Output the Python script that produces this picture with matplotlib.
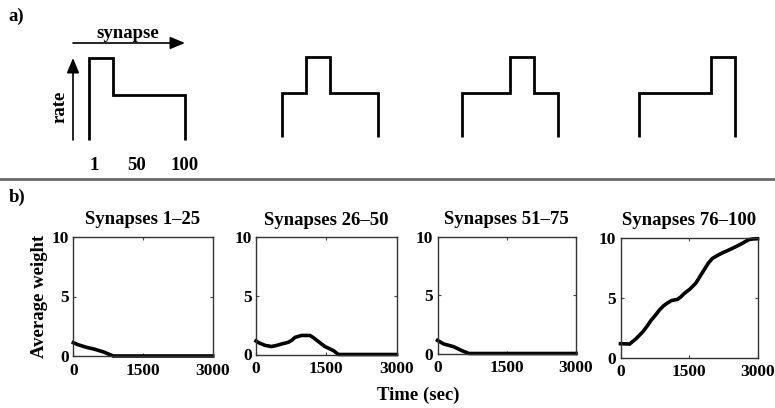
import numpy as np
import matplotlib
matplotlib.use("Agg")
import matplotlib.pyplot as plt
from matplotlib.lines import Line2D

plt.rcParams["font.family"] = ["Liberation Serif", "DejaVu Serif"]
plt.rcParams["font.weight"] = "bold"

W, H = 775, 408

# --- panel a: input rate profiles (4 groups of 25 synapses) ---
group_edges = [0, 25, 50, 75, 100]
rate_high = 1.0
rate_low = 0.55
synapse_ticks = [1, 50, 100]

# --- panel b: average weight over time per group ---
titles = ["Synapses 1\u201325", "Synapses 26\u201350", "Synapses 51\u201375", "Synapses 76\u2013100"]

t1 = [0, 100, 290, 450, 650, 830, 860, 3000]
w1 = [1.12, 0.95, 0.72, 0.58, 0.34, 0.05, 0.0, 0.0]

t2 = [0, 60, 190, 330, 450, 550, 690, 760, 830, 970, 1150, 1220, 1300, 1470, 1650, 1760, 3000]
w2 = [1.15, 1.0, 0.78, 0.68, 0.78, 0.9, 1.04, 1.2, 1.45, 1.62, 1.62, 1.45, 1.2, 0.68, 0.34, 0.0, 0.0]

t3 = [0, 130, 350, 530, 680, 3000]
w3 = [1.12, 0.82, 0.58, 0.24, 0.0, 0.0]

t4 = [0, 200, 350, 490, 580, 670, 760, 850, 940, 1030, 1120, 1250, 1320, 1400, 1520,
      1650, 1740, 1830, 1920, 2010, 2120, 2230, 2340, 2440, 2550, 2660, 2810, 2900, 3000]
w4 = [1.15, 1.12, 1.6, 2.15, 2.6, 3.1, 3.5, 3.95, 4.3, 4.55, 4.75, 4.85, 5.05, 5.35, 5.7,
      6.2, 6.75, 7.3, 7.85, 8.25, 8.5, 8.72, 8.9, 9.08, 9.28, 9.5, 9.82, 9.88, 9.9]

times = [t1, t2, t3, t4]
weights = [w1, w2, w3, w4]


def px_axes(fig, l, t, r, b):
    return fig.add_axes([l / W, (H - b) / H, (r - l) / W, (b - t) / H])


fig = plt.figure(figsize=(W / 100, H / 100), dpi=100)

fs = 13.5
fs_tick = 12.5

# panel labels
fig.text(8 / W, 1 - 16 / H, "a)", fontsize=fs, fontweight="bold", va="center", ha="left")
fig.text(9 / W, 1 - 197 / H, "b)", fontsize=fs, fontweight="bold", va="center", ha="left")

# separator
fig.add_artist(Line2D([0, 1], [1 - 178.5 / H, 1 - 178.5 / H], transform=fig.transFigure,
                      color="#6a6a6a", lw=2))

# profile boxes (left, top, bottom) in pixels
prof_left = [89, 282, 462, 639]
prof_top = [58, 57, 57, 57]
prof_bot = [140, 137, 137, 137]
prof_w = 96

for k in range(4):
    ax = px_axes(fig, prof_left[k], prof_top[k], prof_left[k] + prof_w, prof_bot[k])
    rates = [rate_high if i == k else rate_low for i in range(4)]
    sp = ax.stairs(rates, group_edges, baseline=0, color="black", lw=2.0)
    sp.set_joinstyle("miter")
    sp.set_clip_on(False)
    ax.set_xlim(0, 100)
    ax.set_ylim(0, 1)
    ax.axis("off")
    if k == 0:
        hx0 = (73 - prof_left[0]) / prof_w
        hy = (prof_bot[0] - 43) / (prof_bot[0] - prof_top[0])
        arrow = dict(arrowstyle="-|>,head_length=0.6,head_width=0.25", color="black",
                     lw=1.2, mutation_scale=15, shrinkA=0, shrinkB=0)
        ax.annotate("", xy=(1.0, hy), xytext=(hx0, hy), xycoords="axes fraction",
                    arrowprops=arrow, annotation_clip=False)
        ax.annotate("", xy=(hx0, 1.0), xytext=(hx0, 0.0), xycoords="axes fraction",
                    arrowprops=arrow, annotation_clip=False)
        ax.text(0.406, (prof_bot[0] - 33) / (prof_bot[0] - prof_top[0]), "synapse",
                transform=ax.transAxes, ha="center", va="center", fontsize=fs, fontweight="bold")
        ax.text(-0.30, 0.40, "rate", transform=ax.transAxes, rotation=90,
                ha="center", va="center", fontsize=fs, fontweight="bold")
        ylab = (prof_bot[0] - 165) / (prof_bot[0] - prof_top[0])
        for s in synapse_ticks:
            ax.text(s, ylab, str(s), transform=ax.get_xaxis_transform(),
                    ha="left" if s == 1 else "center", va="center",
                    fontsize=fs, fontweight="bold")

# weight plots (left, top, right, bottom) in pixels
boxes = [(73.3, 237, 212.7, 356), (256, 237, 396.5, 354.5),
         (437.5, 236.5, 576, 353.5), (620.5, 237.5, 757.5, 357.5)]

for k in range(4):
    ax = px_axes(fig, *boxes[k])
    ax.plot(times[k], weights[k], color="black", lw=2.6, solid_joinstyle="round",
            clip_on=False)
    ax.set_xlim(0, 3000)
    ax.set_ylim(0, 10)
    ax.set_xticks([0, 1500, 3000])
    ax.set_yticks([0, 5, 10])
    ax.tick_params(direction="in", length=2, width=0.8, top=True, right=True,
                   labelsize=fs_tick, color="#444444")
    ax.tick_params(axis="x", pad=5)
    ax.tick_params(axis="y", pad=3)
    for lab in ax.get_xticklabels() + ax.get_yticklabels():
        lab.set_fontweight("bold")
    for sp in ax.spines.values():
        sp.set_linewidth(1.0)
        sp.set_color("#333333")
    ax.set_title(titles[k], fontsize=fs, fontweight="bold", pad=9)
    if k == 0:
        ax.set_ylabel("Average weight", fontsize=fs, fontweight="bold", labelpad=3)

fig.text(418 / W, 1 - 395 / H, "Time (sec)", ha="center", va="center",
         fontsize=fs, fontweight="bold")

fig.savefig("out.png", dpi=100)
